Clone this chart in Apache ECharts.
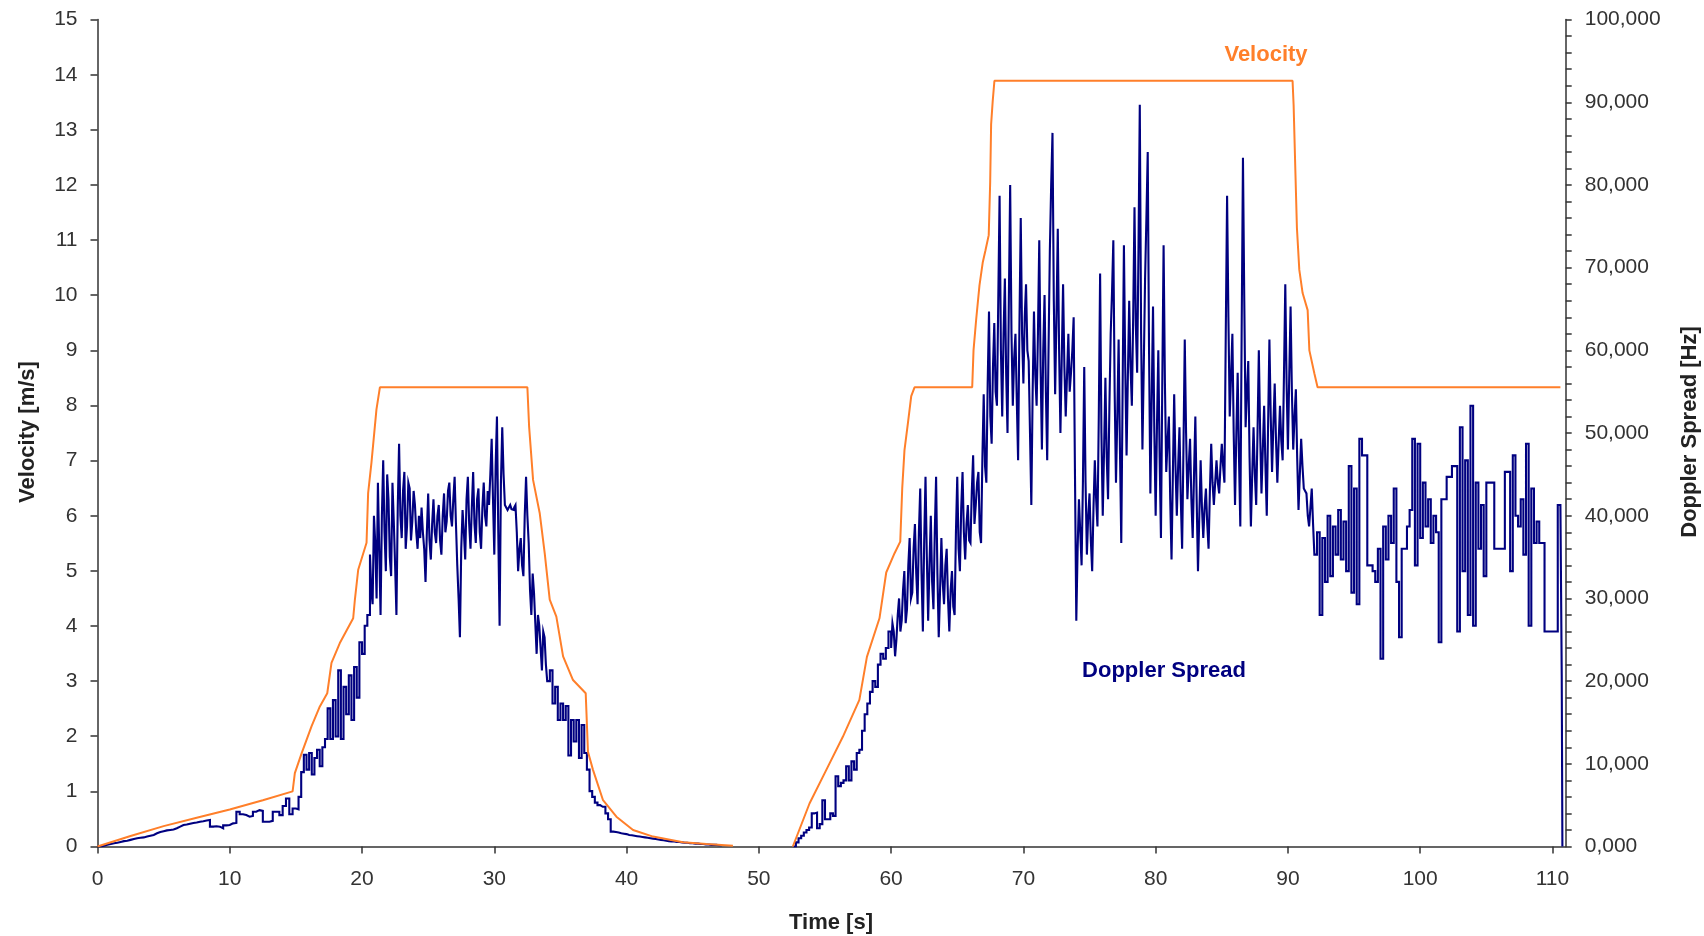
<!DOCTYPE html>
<html>
<head>
<meta charset="utf-8">
<script src="https://cdn.jsdelivr.net/npm/echarts@6/dist/echarts.min.js"></script>
<style>
html,body{margin:0;padding:0;background:#fff;}
#chart{width:1704px;height:936px;}
</style>
</head>
<body>
<div id="chart"></div>
<script>
// ---- Data ----
const xTickValues = [0, 10, 20, 30, 40, 50, 60, 70, 80, 90, 100, 110];

// Velocity [m/s], first run
const velocityTime1 = [0, 2.5, 5, 7.5, 10, 12.5, 14.75, 14.92, 15.43, 16.18, 16.81, 17.37, 17.69, 18.32, 19.33, 19.46, 19.71, 20.34, 20.46, 20.71, 21.09, 21.35, 32.5, 32.63, 32.93, 33.43, 33.81, 34.19, 34.69, 35.2, 35.95, 36.91, 37.08, 37.46, 38.22, 39.23, 40.49, 42.0, 44.26, 46.03, 48.04];
const velocityValues1 = [0, 0.19, 0.37, 0.52, 0.67, 0.84, 1.0, 1.33, 1.69, 2.18, 2.54, 2.78, 3.33, 3.69, 4.14, 4.48, 5.02, 5.51, 6.41, 6.96, 7.93, 8.33, 8.33, 7.62, 6.65, 6.05, 5.32, 4.48, 4.17, 3.45, 3.02, 2.78, 1.72, 1.39, 0.84, 0.54, 0.30, 0.18, 0.076, 0.045, 0.015];

// Velocity [m/s], second run
const velocityTime2 = [52.57, 53.83, 55.1, 56.35, 57.6, 58.17, 59.12, 59.63, 60.26, 60.69, 60.84, 61.01, 61.27, 61.52, 61.77, 66.13, 66.23, 66.43, 66.68, 66.93, 67.13, 67.38, 67.49, 67.56, 67.68, 67.81, 90.35, 90.43, 90.56, 90.68, 90.86, 91.11, 91.49, 91.62, 92.0, 92.24, 110.6];
const velocityValues2 = [0, 0.78, 1.39, 1.99, 2.66, 3.44, 4.14, 4.97, 5.32, 5.53, 6.5, 7.19, 7.68, 8.17, 8.33, 8.33, 9.0, 9.56, 10.18, 10.6, 10.81, 11.09, 12.06, 13.1, 13.52, 13.89, 13.89, 13.45, 12.27, 11.22, 10.46, 10.04, 9.73, 9.0, 8.58, 8.33, 8.33];

// Doppler spread [Hz]: sampled pieces (start time [s], sample spacing [s], values)
const dopplerLowStart = 0, dopplerLowStep = 0.25;
const dopplerLow = [
  0, 100, 200, 300, 400, 450, 550, 650,
  700, 800, 900, 1000, 1050, 1100, 1200, 1300,
  1400, 1600, 1750, 1850, 1950, 2000, 2050, 2200,
  2400, 2600, 2650, 2750, 2850, 2900, 3000, 3050,
  3150, 3200, 2400, 2450, 2400, 2200, 2550, 2600,
  2800, 2850, 4200, 3900, 3800, 3600, 3700, 4200,
  4400, 4300, 3000, 3000, 3100, 4200, 4200, 3800,
  4900, 5800, 3900, 4600, 4500
];

const dopplerRise1Start = 15.2, dopplerRise1Step = 0.2;
const dopplerRise1 = [
  6000, 9000, 11100, 9300, 11300, 8700, 10700, 11700, 9700, 12000,
  13000, 16700, 13000, 17700, 13300, 21300, 13000, 19300, 16000, 20700,
  15300, 21700, 18000, 24700, 23300, 26700, 28000
];

const dopplerTop1Start = 20.6, dopplerTop1Step = 0.1;
const dopplerTop1 = [
  35300, 31000, 29300, 40000, 36700, 30000, 44000, 36000, 28000, 40000,
  46700, 38000, 33300, 45000, 42000, 35000, 32700, 44000, 39300, 34000,
  28000, 41000, 48700, 40000, 37300, 43000, 45300, 36000, 38700, 44000,
  43300, 37000, 39300, 43000, 41300, 38000, 36000, 40000, 37300, 41000,
  38000, 36000, 32000, 38000, 42700, 37000, 34700, 39000, 42000, 38000,
  36700, 40000, 41300, 37000, 35300, 40000, 42700, 38000, 39300, 43000,
  44000, 40000, 38700, 42000, 44700, 39000, 34000, 30000, 25300, 36000,
  40700, 38000, 34700, 42000, 44700, 39000, 36000, 41000, 45300, 39000,
  36700, 42000, 43300, 38000, 36000, 41000, 44000, 40000, 38700, 43000,
  41300, 45000, 49300, 42000, 35300, 46000, 52000, 38000, 26700, 44000,
  50700, 45000, 41300, 41000, 40700, 41000, 41300, 40800, 40700, 41000,
  41300, 38000, 33300, 36000, 37300, 34000, 32700, 40000, 44700, 40000,
  36700, 31000, 28000, 33000, 30700, 27000, 23300, 28000, 26700, 24000,
  21300, 26000, 25300, 22000, 20000
];

const dopplerFall1Start = 34.2, dopplerFall1Step = 0.2;
const dopplerFall1 = [
  21300, 17300, 19300, 15300, 17300,
  15300, 17000, 11000, 15300, 12700, 15300, 10700, 14700, 11300, 9300,
  6700, 6000, 5300, 5000, 4800, 4800, 4000, 3300, 1800, 1750,
  1700, 1600, 1550, 1500, 1400, 1350, 1300, 1250, 1200, 1150,
  1100, 1050, 1000, 950, 900, 850, 800, 750, 700, 650,
  600, 600, 550, 550, 500, 450, 450, 400, 400, 350,
  350, 300, 300, 250, 250, 200, 200, 200, 150, 150,
  100
];

const dopplerRise2Start = 52.6, dopplerRise2Step = 0.2;
const dopplerRise2 = [
  0, 500, 1000, 1300, 1700, 2000, 2300, 4000, 4100, 2200,
  2700, 5600, 3300, 3300, 4000, 3700, 8500, 7300, 7700, 8000,
  9700, 8000, 10300, 9300, 11300, 11700, 14000, 16000, 17300, 18700,
  20000, 19300, 22000, 23300, 22700, 24000, 26000
];

const dopplerTop2Start = 60.0, dopplerTop2Step = 0.1;
const dopplerTop2 = [
  24000, 27000, 26000, 23000, 25000, 28000, 30000, 26000, 27300, 31000,
  33300, 27000, 28700, 34000, 37300, 30000, 30700, 36000, 39000, 33000,
  29300, 38000, 43300, 33000, 26000, 37000, 44700, 35000, 27300, 34000,
  40000, 32000, 28700, 38000, 44700, 33000, 25300, 31000, 37300, 32000,
  29300, 34000, 36000, 30000, 26000, 31000, 33300, 29000, 28000, 38000,
  44700, 36000, 33300, 41000, 45300, 38000, 34700, 39000, 41300, 37000,
  36700, 43000, 47300, 39000, 41300, 44000, 45300, 38000, 36700, 47000,
  54700, 46000, 44000, 56000, 64700, 52000, 48700, 58000, 63300, 55000,
  53300, 66000, 78700, 60000, 52000, 62000, 68700, 57000, 50000, 66000,
  80000, 62000, 53300, 59000, 62000, 54000, 46700, 63000, 76000, 62000,
  56000, 64000, 68000, 60000, 58700, 50000, 41300, 55000, 64700, 57000,
  53300, 62000, 73300, 58000, 48000, 60000, 66700, 55000, 46700, 60000,
  72000, 80000, 86300, 66000, 54700, 64000, 74700, 60000, 50000, 59000,
  68000, 58000, 52000, 57000, 62000, 55000, 57300, 60000, 64000, 45000,
  27300, 36000, 42000, 38000, 34000, 44000, 58000, 44000, 35300, 40000,
  42700, 37000, 33300, 41000, 46700, 42000, 38700, 52000, 69300, 50000,
  40000, 48000, 56700, 47000, 42000, 53000, 62000, 67000, 73300, 55000,
  44000, 52000, 61300, 48000, 36700, 55000, 72700, 58000, 47300, 57000,
  66000, 58000, 53300, 64000, 77300, 63000, 57300, 72000, 89700, 62000,
  48000, 58000, 68700, 76000, 84000, 60000, 42700, 54000, 65300, 50000,
  40000, 51000, 60000, 47000, 37300, 56000, 72700, 56000, 45300, 49000,
  52000, 42000, 34700, 45000, 54700, 46000, 40000, 46000, 50700, 42000,
  36000, 48000, 61300, 50000, 42000, 46000, 49300, 42000, 37300, 45000,
  52000, 42000, 33300, 40000, 46700, 41000, 37300, 41000, 43300, 39000,
  36000, 43000, 48700, 44000, 41300, 44000, 46700, 44000, 42700, 46000,
  48700, 46000, 44000, 62000, 78700, 64000, 52000, 57000, 62000, 50000,
  41300, 50000, 57300, 47000, 38700, 62000, 83300, 66000, 50700, 55000,
  58700, 47000, 38700, 45000, 50700, 45000, 41300, 50000, 60000, 50000,
  42700, 48000, 53300, 46000, 40000, 51000, 61300, 52000, 45300, 51000,
  56000, 49000, 44000, 49000, 53300, 49000, 46700, 57000, 68000, 56000,
  48000, 57000, 65300, 55000, 48000, 52000, 55300, 47000, 40700, 45000,
  49300, 46000, 43300, 43000, 42700, 40000, 38700, 41000, 43300, 39000,
  35300
];

const dopplerTail2Start = 92.2, dopplerTail2Step = 0.2;
const dopplerTail2 = [
  38000, 28000, 37300, 32000, 40000, 32700, 38700, 35300, 40700,
  34700, 39300, 33300, 46000, 30700, 43300, 29300, 49300, 47300, 47300,
  34000, 34000, 33300, 32000, 36000, 22700, 38700, 34700, 40000, 36700,
  43300, 32000, 25300, 36000, 36000, 38700, 40700, 49300, 34000, 48700,
  37300, 44000, 38700, 42000, 36700, 40000, 38000, 24700, 42000, 42000,
  44700, 44700, 46000, 46000, 26000, 50700, 33300, 46700, 28000, 53300,
  26700, 44000, 36000, 41300, 32700, 44000, 44000, 44000, 36000, 36000,
  36000, 36000, 45300, 45300, 33300, 47300, 40000, 38700, 42000, 35300,
  48700, 26700, 43300, 36700, 39300, 36700, 36700, 26000, 26000, 26000,
  26000, 26000, 41300, 41300
];
const dopplerEndTime = [110.7, 110.75];
const dopplerEndValues = [20700, 0];

// ---- Build series data ----
function sampled(start, step, values) {
  return values.map((v, i) => [+(start + i * step).toFixed(3), v]);
}
function paired(times, values) {
  return times.map((t, i) => [t, values[i]]);
}
const dopplerData1 = [].concat(
  sampled(dopplerLowStart, dopplerLowStep, dopplerLow),
  sampled(dopplerRise1Start, dopplerRise1Step, dopplerRise1),
  sampled(dopplerTop1Start, dopplerTop1Step, dopplerTop1),
  sampled(dopplerFall1Start, dopplerFall1Step, dopplerFall1)
);
const dopplerData2 = [].concat(
  sampled(dopplerRise2Start, dopplerRise2Step, dopplerRise2),
  sampled(dopplerTop2Start, dopplerTop2Step, dopplerTop2),
  sampled(dopplerTail2Start, dopplerTail2Step, dopplerTail2),
  paired(dopplerEndTime, dopplerEndValues)
);
const velocityData1 = paired(velocityTime1, velocityValues1);
const velocityData2 = paired(velocityTime2, velocityValues2);

const ORANGE = '#FF7F2A';
const NAVY = '#000080';
const AXIS = '#333333';
const FONT = '"Liberation Sans", Arial, sans-serif';

const chart = echarts.init(document.getElementById('chart'), null, {renderer: 'canvas'});
const dopplerStyle = {
  type: 'line', yAxisIndex: 1, step: 'end', showSymbol: false, symbol: 'none',
  sampling: 'none',
  lineStyle: {color: NAVY, width: 2.1, join: 'miter'}, itemStyle: {color: NAVY}, z: 2
};
const velocityStyle = {
  type: 'line', yAxisIndex: 0, showSymbol: false, symbol: 'none',
  lineStyle: {color: ORANGE, width: 2}, itemStyle: {color: ORANGE}, z: 3
};

chart.setOption({
  animation: false,
  backgroundColor: '#ffffff',
  grid: {left: 97.5, right: 138.3, top: 19.6, bottom: 89.5, containLabel: false},
  xAxis: {
    type: 'value', min: 0, max: 111,
    axisLine: {show: true, lineStyle: {color: AXIS, width: 1.5}},
    axisTick: {show: true, length: 7, lineStyle: {color: AXIS, width: 1.5}, customValues: xTickValues},
    axisLabel: {color: '#333', fontSize: 21, fontFamily: FONT, margin: 22, customValues: xTickValues},
    splitLine: {show: false}
  },
  yAxis: [
    {
      type: 'value', min: 0, max: 15, interval: 1, position: 'left',
      axisLine: {show: true, lineStyle: {color: AXIS, width: 1.5}},
      axisTick: {show: true, length: 7, lineStyle: {color: AXIS, width: 1.5}},
      axisLabel: {color: '#333', fontSize: 21, fontFamily: FONT, margin: 20},
      splitLine: {show: false}
    },
    {
      type: 'value', min: 0, max: 100000, interval: 10000, position: 'right',
      axisLine: {show: true, lineStyle: {color: AXIS, width: 1.5}},
      axisTick: {show: true, length: 6, lineStyle: {color: AXIS, width: 1.5}},
      minorTick: {show: true, splitNumber: 5, length: 6, lineStyle: {color: AXIS, width: 1.5}},
      axisLabel: {
        color: '#333', fontSize: 21, fontFamily: FONT, margin: 19,
        formatter: v => v === 0 ? '0,000' : v.toLocaleString('en-US')
      },
      splitLine: {show: false}
    }
  ],
  series: [
    Object.assign({name: 'Doppler Spread', data: dopplerData1}, dopplerStyle),
    Object.assign({name: 'Doppler Spread 2', data: dopplerData2}, dopplerStyle),
    Object.assign({name: 'Velocity', data: velocityData1}, velocityStyle),
    Object.assign({name: 'Velocity 2', data: velocityData2}, velocityStyle)
  ],
  graphic: [
    {type: 'text', x: 28, y: 432, rotation: Math.PI / 2,
     style: {text: 'Velocity [m/s]', fill: '#222', font: 'bold 22px ' + FONT, align: 'center', verticalAlign: 'middle'}},
    {type: 'text', x: 831, y: 923,
     style: {text: 'Time [s]', fill: '#222', font: 'bold 22px ' + FONT, align: 'center', verticalAlign: 'middle'}},
    {type: 'text', x: 1690, y: 432, rotation: Math.PI / 2,
     style: {text: 'Doppler Spread [Hz]', fill: '#222', font: 'bold 22px ' + FONT, align: 'center', verticalAlign: 'middle'}},
    {type: 'text', x: 1266, y: 55,
     style: {text: 'Velocity', fill: ORANGE, font: 'bold 22px ' + FONT, align: 'center', verticalAlign: 'middle'}},
    {type: 'text', x: 1164, y: 671,
     style: {text: 'Doppler Spread', fill: NAVY, font: 'bold 22px ' + FONT, align: 'center', verticalAlign: 'middle'}}
  ]
});
</script>
</body>
</html>
